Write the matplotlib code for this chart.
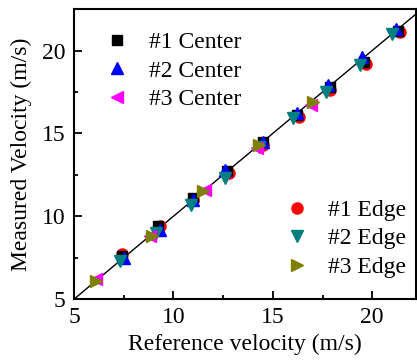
import numpy as np
import matplotlib.pyplot as plt
from matplotlib.ticker import MultipleLocator

plt.rcParams['font.family'] = ['Liberation Serif', 'DejaVu Serif']

# reference / measured velocities (m/s) for each probe position
ref_c1 = [7.4, 9.2, 11.0, 12.7, 14.5, 16.2, 17.9, 19.6, 21.3]
meas_c1 = [7.6, 9.4, 11.1, 12.7, 14.5, 16.1, 17.8, 19.3, 21.2]
ref_c2 = [7.5, 9.3, 11.0, 12.6, 14.5, 16.2, 17.8, 19.5, 21.2]
meas_c2 = [7.5, 9.2, 11.0, 12.8, 14.5, 16.2, 17.9, 19.6, 21.3]
ref_c3 = [6.1, 8.8, 11.6, 14.2, 16.9]
meas_c3 = [6.2, 8.8, 11.6, 14.1, 16.7]

ref_e1 = [7.4, 9.3, 11.0, 12.8, 14.5, 16.3, 17.9, 19.7, 21.4]
meas_e1 = [7.7, 9.4, 11.0, 12.6, 14.3, 16.0, 17.6, 19.2, 21.1]
ref_e2 = [7.3, 9.1, 10.9, 12.6, 14.3, 16.0, 17.7, 19.4, 21.0]
meas_e2 = [7.3, 9.0, 10.7, 12.3, 14.2, 15.9, 17.5, 19.1, 21.0]
ref_e3 = [6.1, 8.9, 11.5, 14.3, 17.0]
meas_e3 = [6.1, 8.8, 11.5, 14.3, 16.9]

fig = plt.figure(figsize=(4.17, 3.63), dpi=100)
ax = fig.add_axes([0.1775, 0.176, 0.82, 0.799])

# ideal y = x line
line = np.array([5, 22.5])
ax.plot(line, line, color='black', lw=1, zorder=1)

ms = 8
e1, = ax.plot(ref_e1, meas_e1, 'o', color='#ff0000', ms=ms, ls='none', zorder=2)
c1, = ax.plot(ref_c1, meas_c1, 's', color='black', ms=ms - 1, ls='none', zorder=3)
c2, = ax.plot(ref_c2, meas_c2, '^', color='#0000ff', ms=ms, ls='none', zorder=4)
e2, = ax.plot(ref_e2, meas_e2, 'v', color='#008080', ms=ms, ls='none', zorder=5)
c3, = ax.plot(ref_c3, meas_c3, '<', color='#ff00ff', ms=ms, ls='none', zorder=6)
e3, = ax.plot(ref_e3, meas_e3, '>', color='#808000', ms=ms, ls='none', zorder=7)

ax.set_xlim(5, 22.2)
ax.set_ylim(5, 22.5)
ax.xaxis.set_major_locator(MultipleLocator(5))
ax.xaxis.set_minor_locator(MultipleLocator(2.5))
ax.yaxis.set_major_locator(MultipleLocator(5))
ax.yaxis.set_minor_locator(MultipleLocator(2.5))
ax.tick_params(which='both', direction='in', top=False, right=False,
               labelsize=17, width=1.3, pad=6)
ax.tick_params(which='major', length=6)
ax.tick_params(which='minor', length=3)
for s in ax.spines.values():
    s.set_linewidth(1.5)

ax.set_xlabel('Reference velocity (m/s)', fontsize=17, labelpad=4)
ax.set_ylabel('Measured Velocity (m/s)', fontsize=17, labelpad=7)

leg1 = ax.legend([c1, c2, c3], ['#1 Center', '#2 Center', '#3 Center'],
                 loc='upper left', frameon=False, fontsize=17,
                 handlelength=2, handletextpad=0.35, labelspacing=0.3,
                 borderaxespad=0, bbox_to_anchor=(0.028, 0.955))
ax.add_artist(leg1)
ax.legend([e1, e2, e3], ['#1 Edge', '#2 Edge', '#3 Edge'],
          loc='lower right', frameon=False, fontsize=17,
          handlelength=2, handletextpad=0.35, labelspacing=0.3,
          borderaxespad=0, bbox_to_anchor=(1.0, 0.04))

fig.savefig('out.png', dpi=100)
